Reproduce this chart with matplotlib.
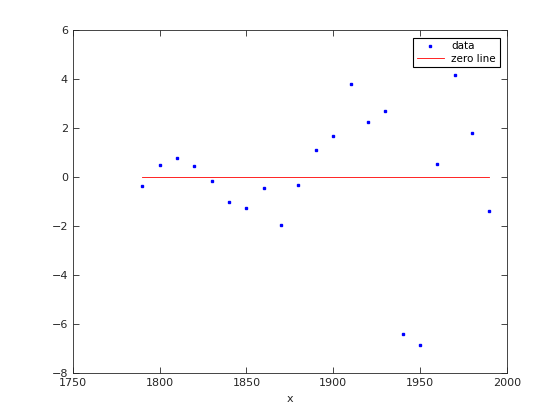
import matplotlib
matplotlib.use("Agg")
import matplotlib.pyplot as plt

years = [1790, 1800, 1810, 1820, 1830, 1840, 1850, 1860, 1870, 1880, 1890,
         1900, 1910, 1920, 1930, 1940, 1950, 1960, 1970, 1980, 1990]
values = [-0.37, 0.49, 0.78, 0.45, -0.16, -1.02, -1.27, -0.44, -1.96, -0.31, 1.13,
          1.67, 3.80, 2.24, 2.69, -6.41, -6.86, 0.53, 4.16, 1.80, -1.36]
zero_x = [1790, 1990]
zero_y = [0, 0]

fig = plt.figure(figsize=(5.6, 4.2), dpi=100)
ax = fig.add_axes([0.13, 0.111, 0.775, 0.817])
ax.plot(years, values, linestyle="none", marker="s", markersize=1.6,
        color="#0000ff", label="data")
ax.plot(zero_x, zero_y, color="#ff0000", linewidth=0.6, label="zero line")

ax.set_xlim(1750, 2000)
ax.set_ylim(-8, 6)
ax.set_xticks([1750, 1800, 1850, 1900, 1950, 2000])
ax.set_yticks([-8, -6, -4, -2, 0, 2, 4, 6])
ax.tick_params(direction="in", top=True, right=True, labelsize=8,
               colors="#262626", length=4, width=0.6)
for s in ax.spines.values():
    s.set_linewidth(0.6)
    s.set_color("#262626")
ax.set_xlabel("x", fontsize=8, color="#262626")

leg = ax.legend(loc="upper right", fontsize=7.5, fancybox=False,
                edgecolor="black", framealpha=1, handlelength=2.6,
                borderaxespad=0.7, labelspacing=0.25, borderpad=0.35,
                handletextpad=0.7)
leg.get_frame().set_linewidth(0.8)

fig.savefig("out.png", dpi=100)
